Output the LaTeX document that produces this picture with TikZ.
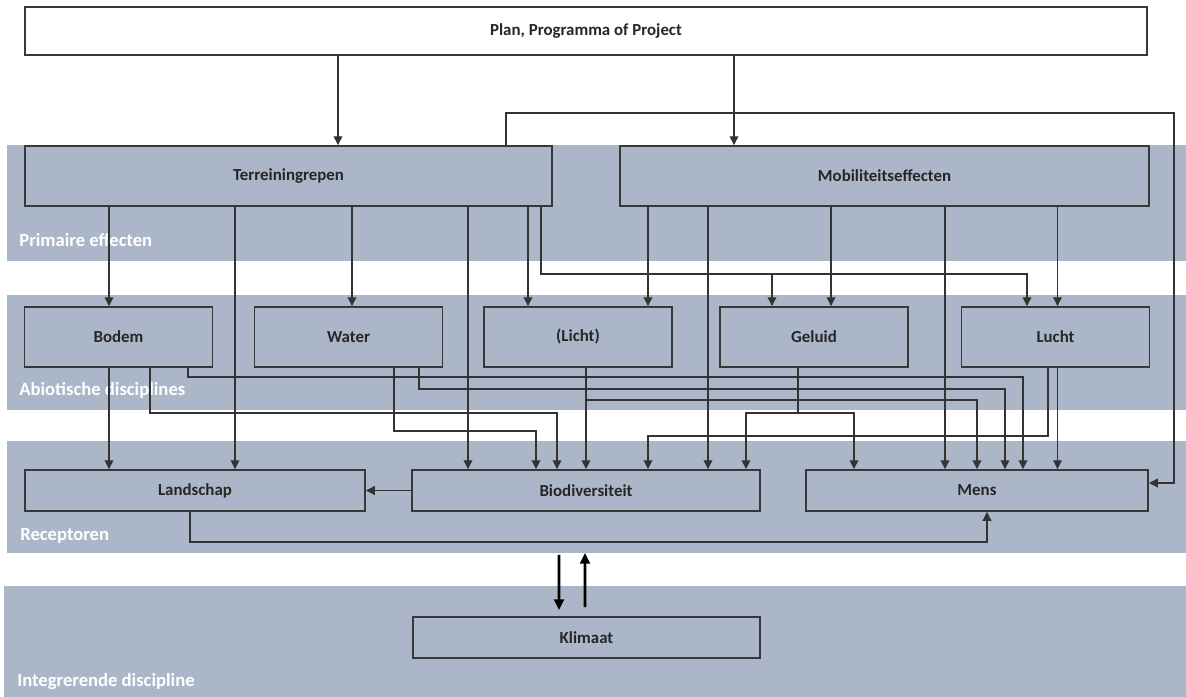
\documentclass[tikz,border=0pt]{standalone}
\usepackage{fontspec}
\setmainfont{Carlito}
\usepackage{tikz}
\usetikzlibrary{arrows.meta}
\definecolor{bandgrey}{RGB}{171,183,200}
\newcommand{\effboxfont}{\linespread{1}\fontsize{9.6}{11.5}\selectfont\bfseries}
\newcommand{\efflayerfont}{\linespread{1}\fontsize{10.6}{12.5}\selectfont\bfseries}
\tikzset{
    eff/chart/.style={font=\effboxfont, every node/.style={align=center}},
    eff/band/.style={fill=bandgrey},
    eff/box/.style={rectangle, draw=black!78, line width=1.1pt, text=black!85, inner sep=2pt},
    eff/plan/.style={eff/box, fill=white, minimum width=22.44cm, minimum height=0.96cm},
    eff/primary/.style={eff/box, minimum width=10.56cm, minimum height=1.2cm},
    eff/abiotic/.style={eff/box, minimum width=3.76cm, minimum height=1.2cm},
    eff/receptor/.style={eff/box, minimum width=6.9cm, minimum height=0.82cm},
    eff/layer/.style={font=\efflayerfont, text=white, inner sep=0pt, anchor=west},
    eff/arrow/.style={-{Triangle[width=5pt,length=5pt]}, line width=0.65pt, draw=black!80},
    eff/climate/.style={-{Triangle[width=5.5pt,length=6pt]}, line width=1.6pt, draw=black}
}
\begin{document}
\begin{tikzpicture}[eff/chart]
    \useasboundingbox (0,0) rectangle (23.72,-13.94);
    % lagen
    \fill[eff/band] (0.14,-2.9) rectangle (23.72,-5.22);
    \fill[eff/band] (0.14,-5.9) rectangle (23.72,-8.2);
    \fill[eff/band] (0.14,-8.82) rectangle (23.72,-11.06);
    \fill[eff/band] (0.08,-11.72) rectangle (23.72,-13.94);
    \node[eff/layer] (primair) at (0.38,-4.8) {Primaire effecten};
    \node[eff/layer] (abiotisch) at (0.38,-7.8) {Abiotische disciplines};
    \node[eff/layer] (receptor) at (0.4,-10.72) {Receptoren};
    \node[eff/layer] (integraal) at (0.34,-13.64) {Integrerende discipline};
    % blokken
    \node[eff/plan] (plan) at (11.72,-0.62) {Plan, Programma of Project};
    \node[eff/primary, minimum width=10.54cm] (terrein) at (5.77,-3.52) {Terreiningrepen};
    \node[eff/primary, minimum width=10.58cm] (mobiel) at (17.69,-3.52) {Mobiliteitseffecten};
    \node[eff/abiotic] (bodem) at (2.37,-6.74) {Bodem};
    \node[eff/abiotic] (water) at (6.97,-6.74) {Water};
    \node[eff/abiotic] (licht) at (11.56,-6.74) {(Licht)};
    \node[eff/abiotic] (geluid) at (16.28,-6.74) {Geluid};
    \node[eff/abiotic] (lucht) at (21.11,-6.74) {Lucht};
    \node[eff/receptor, minimum width=6.8cm] (landschap) at (3.9,-9.81) {Landschap};
    \node[eff/receptor, minimum width=6.96cm] (bio) at (11.72,-9.81) {Biodiversiteit};
    \node[eff/receptor, minimum width=6.84cm] (mens) at (19.54,-9.81) {Mens};
    \node[eff/receptor, minimum width=6.94cm] (klimaat) at (11.73,-12.75) {Klimaat};
    % rechte verbindingen
    \foreach \xpos/\source/\target in {6.76/plan/terrein,14.68/plan/mobiel,2.18/terrein/bodem,4.7/terrein/landschap,7.04/terrein/water,9.36/terrein/bio,10.56/terrein/licht,12.96/mobiel/licht,14.16/mobiel/bio,16.62/mobiel/geluid,18.9/mobiel/mens,21.15/mobiel/lucht,2.18/bodem/landschap,11.72/licht/bio,21.15/lucht/mens}
        \draw[eff/arrow] (\source.south -| \xpos,0) -- (\target.north -| \xpos,0);
    % geknikte verbindingen
    \draw[eff/arrow] (terrein.north -| 10.12,0) |- (23.48,-2.26) |- ([yshift=0.15cm]mens.east);
    \draw[eff/arrow] (terrein.south -| 10.82,0) |- (20.54,-5.48) -- (lucht.north -| 20.54,0);
    \draw[eff/arrow] (terrein.south -| 10.82,0) |- (15.44,-5.48) -- (geluid.north -| 15.44,0);
    \draw[eff/arrow] (bodem.south -| 3.0,0) |- (11.14,-8.26) -- (bio.north -| 11.14,0);
    \draw[eff/arrow] (bodem.south -| 3.76,0) |- (20.46,-7.54) -- (mens.north -| 20.46,0);
    \draw[eff/arrow] (water.south -| 7.88,0) |- (10.72,-8.62) -- (bio.north -| 10.72,0);
    \draw[eff/arrow] (water.south -| 8.38,0) |- (20.1,-7.78) -- (mens.north -| 20.1,0);
    \draw[eff/arrow] (licht.south -| 11.72,0) |- (19.54,-8.0) -- (mens.north -| 19.54,0);
    \draw[eff/arrow] (geluid.south -| 15.96,0) |- (14.92,-8.26) -- (bio.north -| 14.92,0);
    \draw[eff/arrow] (geluid.south -| 15.96,0) |- (17.08,-8.26) -- (mens.north -| 17.08,0);
    \draw[eff/arrow] (lucht.south -| 20.96,0) |- (12.96,-8.72) -- (bio.north -| 12.96,0);
    \draw[eff/arrow] (bio.west) -- (landschap.east);
    \draw[eff/arrow] (landschap.south -| 3.8,0) |- (19.74,-10.84) -- (mens.south -| 19.74,0);
    % klimaat
    \draw[eff/climate] ([xshift=-0.54cm,yshift=-0.86cm]bio.south) -- ([xshift=-0.55cm,yshift=0.12cm]klimaat.north);
    \draw[eff/climate] ([xshift=-0.03cm,yshift=0.18cm]klimaat.north) -- ([xshift=-0.02cm,yshift=-0.82cm]bio.south);
\end{tikzpicture}
\end{document}
